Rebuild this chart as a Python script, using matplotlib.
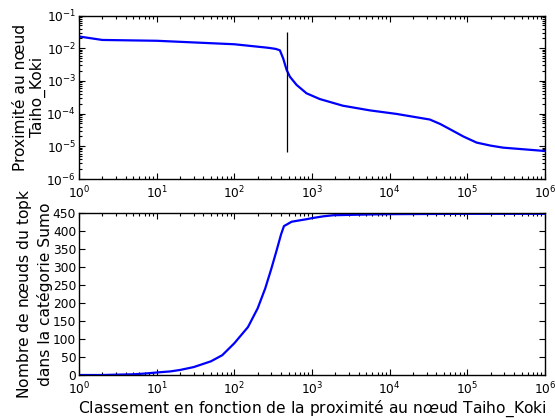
import numpy as np
import matplotlib
matplotlib.use("Agg")
import matplotlib.pyplot as plt

# Top: proximity to node Taiho_Koki vs rank
rank_top = [1, 2, 10, 100, 260, 287, 340, 386, 426, 471, 520, 633, 850, 1260, 2500,
            5560, 12300, 33000, 45000, 59000, 89000, 132000, 200000, 290000, 1000000]
prox_top = [2.3e-2, 1.8e-2, 1.7e-2, 1.33e-2, 1.05e-2, 1.02e-2, 9.6e-3, 8.7e-3, 4.9e-3,
            2.2e-3, 1.35e-3, 7.6e-4, 4.2e-4, 2.8e-4, 1.75e-4, 1.26e-4, 9.8e-5,
            6.6e-5, 4.8e-5, 3.4e-5, 2.0e-5, 1.3e-5, 1.05e-5, 9.1e-6, 7.2e-6]
cut_rank = 471
cut_ymin, cut_ymax = 6.6e-6, 3.2e-2

# Bottom: number of top-k nodes in category Sumo
rank_bot = [1, 2, 3, 5, 7, 10, 15, 20, 30, 40, 50, 70, 100, 150, 200, 250, 300,
            350, 400, 436, 480, 546, 700, 850, 1000, 1400, 1870, 3000, 5000,
            9000, 100000, 1000000]
count_bot = [0, 0, 1, 2, 4, 7, 10, 14, 22, 31, 38, 55, 88, 133, 185, 240, 295,
             345, 390, 413, 418, 425, 429, 432, 435, 440, 443, 444, 445, 446,
             447, 447]

plt.rcParams['font.family'] = ['DejaVu Sans']
plt.rcParams['xtick.direction'] = 'in'
plt.rcParams['ytick.direction'] = 'in'
plt.rcParams['xtick.top'] = True
plt.rcParams['ytick.right'] = True
plt.rcParams['xtick.major.size'] = 4
plt.rcParams['ytick.major.size'] = 4
plt.rcParams['xtick.minor.size'] = 2
plt.rcParams['ytick.minor.size'] = 2
plt.rcParams['xtick.major.pad'] = 4
plt.rcParams['ytick.major.pad'] = 2

fs = 8.8
lfs = 11.2
fig = plt.figure(figsize=(5.55, 4.2), dpi=100)
ax1 = fig.add_axes([0.1423, 0.5738, 0.8396, 0.389])
ax2 = fig.add_axes([0.1423, 0.1071, 0.8396, 0.3864])

ax1.plot(rank_top, prox_top, color='#0000ff', lw=1.6)
ax1.vlines(cut_rank, cut_ymin, cut_ymax, color='black', lw=0.9)
ax1.set_xscale('log')
ax1.set_yscale('log')
ax1.set_xlim(1, 1e6)
ax1.set_ylim(1e-6, 1e-1)
ax1.set_ylabel("Proximité au nœud\nTaiho_Koki", fontsize=lfs, labelpad=0)

ax2.plot(rank_bot, count_bot, color='#0000ff', lw=1.6)
ax2.set_xscale('log')
ax2.set_xlim(1, 1e6)
ax2.set_ylim(0, 450)
ax2.set_yticks(np.arange(0, 451, 50))
ax2.set_ylabel("Nombre de n$\\oe$uds du topk\ndans la catégorie Sumo", fontsize=lfs, labelpad=0)
ax2.set_xlabel("Classement en fonction de la proximité au n$\\oe$ud Taiho_Koki", fontsize=lfs, labelpad=1)

for ax in (ax1, ax2):
    ax.tick_params(which='both', width=0.8, labelsize=fs)
    ax.tick_params(which='minor', labelleft=False, labelbottom=False)
    for s in ax.spines.values():
        s.set_linewidth(1.0)
    ax.xaxis.set_minor_locator(matplotlib.ticker.LogLocator(base=10, subs=np.arange(2, 10), numticks=100))
ax1.yaxis.set_minor_locator(matplotlib.ticker.LogLocator(base=10, subs=np.arange(2, 10), numticks=100))

fig.savefig("out.png", dpi=100, facecolor='white')
